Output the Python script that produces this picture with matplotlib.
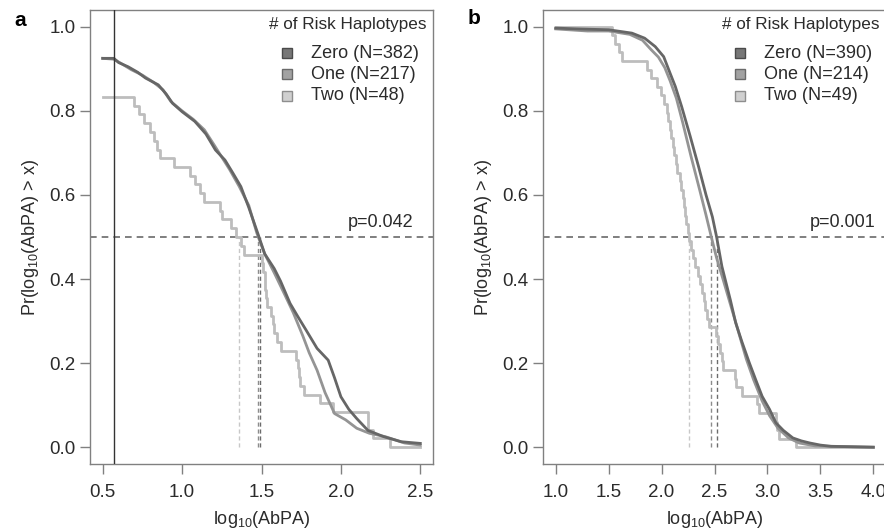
import numpy as np
import matplotlib
matplotlib.use("Agg")
import matplotlib.pyplot as plt

plt.rcParams['font.family'] = ['Liberation Sans', 'DejaVu Sans']
plt.rcParams['mathtext.default'] = 'regular'

# ---- panel a data ----
a_zero_x = [0.50, 0.57, 0.60, 0.66, 0.72, 0.77, 0.85, 0.90, 0.94, 1.00, 1.08, 1.15, 1.21, 1.27,
            1.32, 1.37, 1.42, 1.48, 1.52, 1.58, 1.62, 1.68, 1.73, 1.78, 1.85, 1.92, 1.96, 2.00,
            2.05, 2.10, 2.17, 2.27, 2.38, 2.50]
a_zero_y = [0.925, 0.925, 0.915, 0.905, 0.892, 0.878, 0.862, 0.840, 0.818, 0.798, 0.775, 0.745,
            0.707, 0.683, 0.652, 0.620, 0.570, 0.505, 0.460, 0.425, 0.395, 0.342, 0.310, 0.279,
            0.235, 0.207, 0.165, 0.120, 0.090, 0.068, 0.040, 0.025, 0.013, 0.009]
a_one_x = [0.50, 0.57, 0.62, 0.68, 0.75, 0.82, 0.88, 0.93, 1.00, 1.07, 1.14, 1.20, 1.25, 1.30,
           1.36, 1.42, 1.47, 1.52, 1.58, 1.65, 1.70, 1.76, 1.80, 1.85, 1.90, 1.96, 2.03, 2.10,
           2.18, 2.28, 2.40, 2.50]
a_one_y = [0.925, 0.923, 0.912, 0.898, 0.885, 0.868, 0.850, 0.822, 0.800, 0.780, 0.755, 0.720,
           0.690, 0.660, 0.620, 0.575, 0.510, 0.460, 0.415, 0.360, 0.320, 0.265, 0.225, 0.183,
           0.130, 0.080, 0.065, 0.045, 0.033, 0.025, 0.010, 0.005]
a_two_x = [0.50, 0.70, 0.73, 0.76, 0.80, 0.82, 0.845, 0.86, 0.95, 1.05, 1.08, 1.11, 1.14, 1.24,
           1.25, 1.31, 1.34, 1.37, 1.39, 1.50, 1.51, 1.52, 1.525, 1.53, 1.535, 1.56, 1.57, 1.58,
           1.60, 1.62, 1.72, 1.73, 1.735, 1.74, 1.77, 1.87, 1.95, 2.17, 2.20, 2.31, 2.50]
a_two_y = [0.833, 0.8125, 0.792, 0.771, 0.750, 0.729, 0.708, 0.6875, 0.667, 0.646, 0.625, 0.604,
           0.583, 0.5625, 0.542, 0.521, 0.500, 0.479, 0.458, 0.4375, 0.417, 0.396, 0.375, 0.354,
           0.333, 0.3125, 0.292, 0.271, 0.250, 0.229, 0.208, 0.1875, 0.167, 0.146, 0.125, 0.104,
           0.083, 0.042, 0.021, 0.0, 0.0]
a_medians = [1.49, 1.477, 1.36]
a_labels = ["Zero (N=382)", "One (N=217)", "Two (N=48)"]
a_p = "p=0.042"

# ---- panel b data ----
b_zero_x = [1.0, 1.2, 1.5, 1.72, 1.84, 1.94, 2.02, 2.08, 2.13, 2.19, 2.27, 2.35, 2.42, 2.48, 2.52,
            2.57, 2.65, 2.70, 2.76, 2.83, 2.89, 2.95, 3.02, 3.08, 3.15, 3.24, 3.32, 3.40, 3.50,
            3.60, 4.0]
b_zero_y = [0.997, 0.995, 0.993, 0.985, 0.973, 0.953, 0.929, 0.890, 0.858, 0.810, 0.740, 0.667,
            0.600, 0.548, 0.500, 0.430, 0.350, 0.296, 0.250, 0.200, 0.160, 0.121, 0.090, 0.058,
            0.040, 0.022, 0.015, 0.010, 0.005, 0.002, 0.0]
b_one_x = [1.0, 1.3, 1.5, 1.70, 1.82, 1.90, 1.97, 2.03, 2.08, 2.14, 2.20, 2.28, 2.36, 2.42, 2.47,
           2.52, 2.58, 2.65, 2.72, 2.80, 2.87, 2.95, 3.02, 3.10, 3.20, 3.30, 3.45, 4.0]
b_one_y = [0.995, 0.990, 0.990, 0.982, 0.968, 0.946, 0.928, 0.903, 0.872, 0.830, 0.772, 0.690,
           0.612, 0.552, 0.500, 0.450, 0.400, 0.340, 0.280, 0.210, 0.160, 0.110, 0.075, 0.045,
           0.022, 0.010, 0.003, 0.0]
b_two_x = [1.00, 1.53, 1.56, 1.60, 1.63, 1.86, 1.90, 1.96, 1.99, 2.02, 2.05, 2.06, 2.08, 2.09,
           2.11, 2.12, 2.14, 2.15, 2.17, 2.18, 2.20, 2.21, 2.22, 2.235, 2.25, 2.26, 2.28, 2.30,
           2.32, 2.34, 2.36, 2.38, 2.40, 2.41, 2.43, 2.445, 2.51, 2.53, 2.55, 2.57, 2.585, 2.69,
           2.70, 2.76, 2.90, 2.92, 3.08, 3.09, 3.11, 3.27, 4.00]
b_two_y = [1.0, 0.980, 0.959, 0.939, 0.918, 0.898, 0.878, 0.857, 0.837, 0.816, 0.796, 0.776,
           0.755, 0.735, 0.714, 0.694, 0.673, 0.653, 0.633, 0.612, 0.592, 0.571, 0.551, 0.531,
           0.510, 0.490, 0.469, 0.449, 0.429, 0.408, 0.388, 0.367, 0.347, 0.327, 0.306, 0.286,
           0.265, 0.245, 0.224, 0.204, 0.184, 0.163, 0.143, 0.122, 0.102, 0.082, 0.061, 0.041,
           0.020, 0.0, 0.0]
b_medians = [2.52, 2.47, 2.26]
b_labels = ["Zero (N=390)", "One (N=214)", "Two (N=49)"]
b_p = "p=0.001"

line_cols = ['#666666', '#949494', '#bdbdbd']
med_cols = ['#6c6c6c', '#8c8c8c', '#c8c8c8']
sq_face = ['#777777', '#a2a2a2', '#d0d0d0']
sq_edge = ['#4a4a4a', '#6a6a6a', '#8e8e8e']
txt_col = '#2b2b2b'
axis_col = '#808080'

fig = plt.figure(figsize=(8.84, 5.32), dpi=100)
ax1 = fig.add_axes([90 / 884, 68 / 532, 343 / 884, 454 / 532])
ax2 = fig.add_axes([543 / 884, 68 / 532, 343 / 884, 454 / 532])


def draw_panel(ax, curves, medians, labels, ptext, xlim, xticks, ptx):
    for i, (xs, ys, step) in enumerate(curves):
        ax.plot(xs, ys, color=line_cols[i], lw=2, drawstyle='steps-post' if step else 'default',
                zorder=3 - i * 0.1 if i < 2 else 2.5)
    for i, m in enumerate(medians):
        ax.plot([m, m], [0, 0.5], color=med_cols[i], lw=1, dashes=(3, 2), zorder=1)
    ax.axhline(0.5, color='#6a6a6a', lw=1.2, dashes=(4, 3), zorder=1)
    ax.text(ptx, 0.515, ptext, ha='right', va='bottom', fontsize=13, color=txt_col)

    ax.set_xlim(xlim)
    ax.set_ylim(-0.04, 1.04)
    ax.set_xticks(xticks)
    ax.set_xticklabels([f"{t:.1f}" for t in xticks])
    ax.set_yticks([0.0, 0.2, 0.4, 0.6, 0.8, 1.0])
    ax.set_yticklabels(["0.0", "0.2", "0.4", "0.6", "0.8", "1.0"])
    ax.tick_params(direction='out', length=7, width=1, color=axis_col,
                   labelsize=13.5, labelcolor=txt_col)
    ax.tick_params(axis='x', pad=7.5)
    ax.tick_params(axis='y', pad=3.5)
    for s in ax.spines.values():
        s.set_color(axis_col)
        s.set_linewidth(1)

    ax.set_xlabel("log$_{10}$(AbPA)", fontsize=13, color=txt_col, labelpad=5.5)
    ax.set_ylabel("Pr(log$_{10}$(AbPA) > x)", fontsize=13, color=txt_col, labelpad=6)

    # legend
    ax.text(0.982, 0.967, "# of Risk Haplotypes", transform=ax.transAxes, ha='right',
            va='center', fontsize=12.3, color=txt_col)
    rows = [0.905, 0.859, 0.811]
    for i, lab in enumerate(labels):
        ax.plot([0.573], [rows[i]], marker='s', ms=7.5, mfc=sq_face[i], mec=sq_edge[i], mew=1,
                transform=ax.transAxes, clip_on=False)
        ax.text(0.643, rows[i], lab, transform=ax.transAxes, ha='left', va='center',
                fontsize=13, color=txt_col)


draw_panel(ax1,
           [(a_zero_x, a_zero_y, False), (a_one_x, a_one_y, False), (a_two_x, a_two_y, True)],
           a_medians, a_labels, a_p, (0.42, 2.58), [0.5, 1.0, 1.5, 2.0, 2.5], 2.456)
ax1.axvline(0.57, color='#333333', lw=1, zorder=4)

draw_panel(ax2,
           [(b_zero_x, b_zero_y, False), (b_one_x, b_one_y, False), (b_two_x, b_two_y, True)],
           b_medians, b_labels, b_p, (0.88, 4.12), [1.0, 1.5, 2.0, 2.5, 3.0, 3.5, 4.0], 4.02)

fig.text(20 / 884, 1 - 20 / 532, "a", fontsize=15, fontweight='bold', ha='center', va='center')
fig.text(474 / 884, 1 - 19 / 532, "b", fontsize=15, fontweight='bold', ha='center', va='center')

fig.savefig("out.png", dpi=100)
